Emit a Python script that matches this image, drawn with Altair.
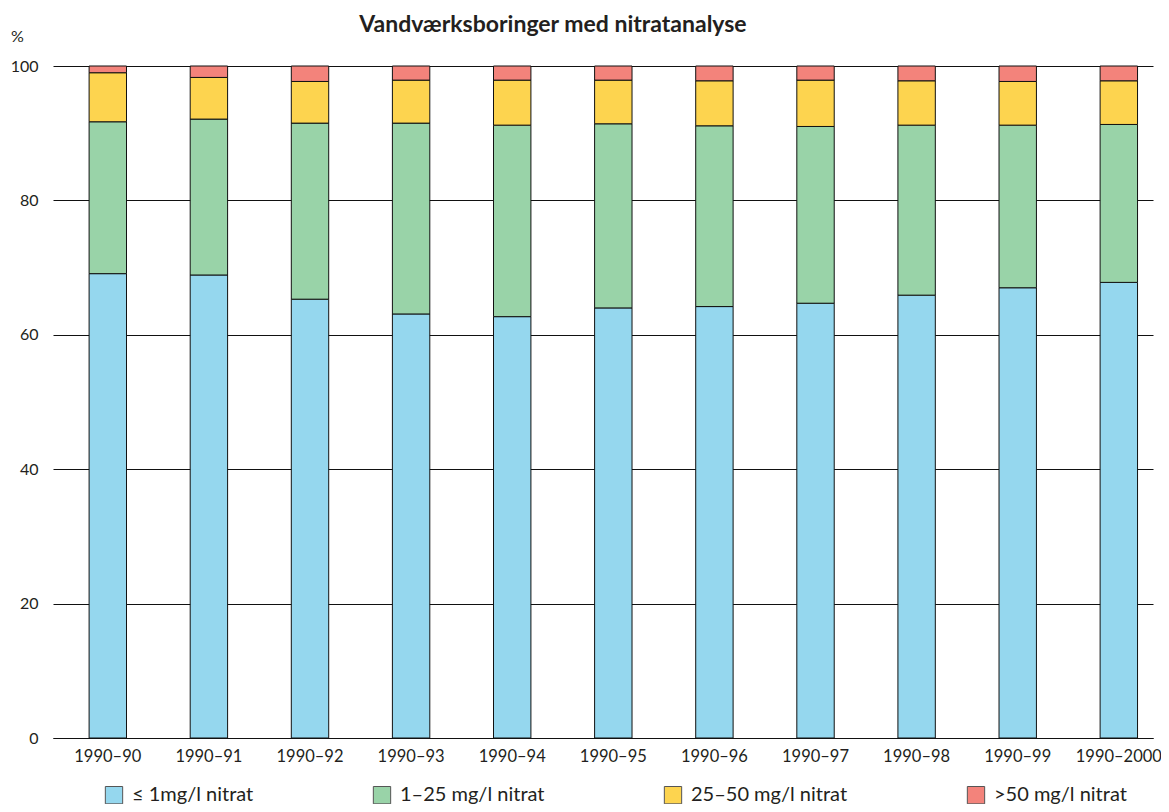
import altair as alt
import pandas as pd

periods = ["1990–90", "1990–91", "1990–92", "1990–93", "1990–94", "1990–95",
           "1990–96", "1990–97", "1990–98", "1990–99", "1990–2000"]
categories = ["≤ 1mg/l nitrat", "1–25 mg/l nitrat", "25–50 mg/l nitrat", ">50 mg/l nitrat"]
colors = ["#95d7ee", "#99d3a8", "#fdd44f", "#f3837b"]

# cumulative tops
low_top = [69.1, 68.9, 65.3, 63.1, 62.7, 64.0, 64.2, 64.7, 65.9, 67.0, 67.8]
mid_top = [91.7, 92.1, 91.5, 91.5, 91.2, 91.4, 91.1, 91.0, 91.2, 91.2, 91.3]
high_top = [99.0, 98.3, 97.7, 97.9, 97.9, 97.9, 97.8, 97.9, 97.8, 97.7, 97.8]

rows = []
for i, p in enumerate(periods):
    vals = [low_top[i], mid_top[i] - low_top[i], high_top[i] - mid_top[i], 100 - high_top[i]]
    for k, (c, v) in enumerate(zip(categories, vals)):
        rows.append({"period": p, "cat": c, "value": round(v, 2), "ord": k})
df = pd.DataFrame(rows)

FONT = "Lato"
TOP = 58
PLOT_H = 672
TOTAL_H = 796
PLOT_W = 1100

chart = alt.Chart(df).mark_bar(stroke="#111111", strokeWidth=1).encode(
    x=alt.X("period:N", sort=periods,
            scale=alt.Scale(paddingInner=0.63, paddingOuter=0.255, align=0.70),
            axis=alt.Axis(title=None, labelAngle=0, ticks=False, domain=True,
                          domainColor="#111111", domainWidth=1.2,
                          labelFontSize=16.5, labelColor="#231f20",
                          labelFont=FONT, labelPadding=10)),
    y=alt.Y("value:Q", stack="zero",
            scale=alt.Scale(domain=[0, 100], nice=False),
            axis=alt.Axis(values=[0, 20, 40, 60, 80, 100], grid=True,
                          gridColor="#111111", gridWidth=1, gridOpacity=1,
                          domain=False, ticks=False, labelFontSize=16,
                          labelColor="#231f20", labelFont=FONT, labelPadding=15,
                          title="%", titleAngle=0, titleX=-36, titleY=-30,
                          titleAlign="center", titleBaseline="middle",
                          titleFont=FONT, titleFontSize=16,
                          titleFontWeight="normal", titleColor="#231f20")),
    color=alt.Color("cat:N", scale=alt.Scale(domain=categories, range=colors),
                    legend=alt.Legend(title=None, orient="none", legendX=51,
                                      legendY=719,
                                      direction="horizontal",
                                      columns=4, columnPadding=117,
                                      symbolType="square", symbolSize=300,
                                      symbolStrokeColor="#555555",
                                      symbolStrokeWidth=1, symbolOpacity=1,
                                      labelFontSize=20, labelFont=FONT,
                                      labelColor="#231f20", labelOffset=8,
                                      labelLimit=400)),
    order=alt.Order("ord:Q", sort="ascending"),
).properties(
    width=PLOT_W, height=PLOT_H,
    title=alt.TitleParams("Vandværksboringer med nitratanalyse", font=FONT,
                          fontSize=23, fontWeight="bold", color="#231f20",
                          anchor="middle", dx=-50, dy=29, offset=2, frame="group",
                          baseline="alphabetic"),
    padding={"left": 45, "top": TOP, "right": 8, "bottom": TOTAL_H - TOP - PLOT_H},
    autosize=alt.AutoSizeParams(type="none"),
).configure_view(stroke=None)

chart.save("out.html", embed_options={"renderer": "svg", "actions": False})
